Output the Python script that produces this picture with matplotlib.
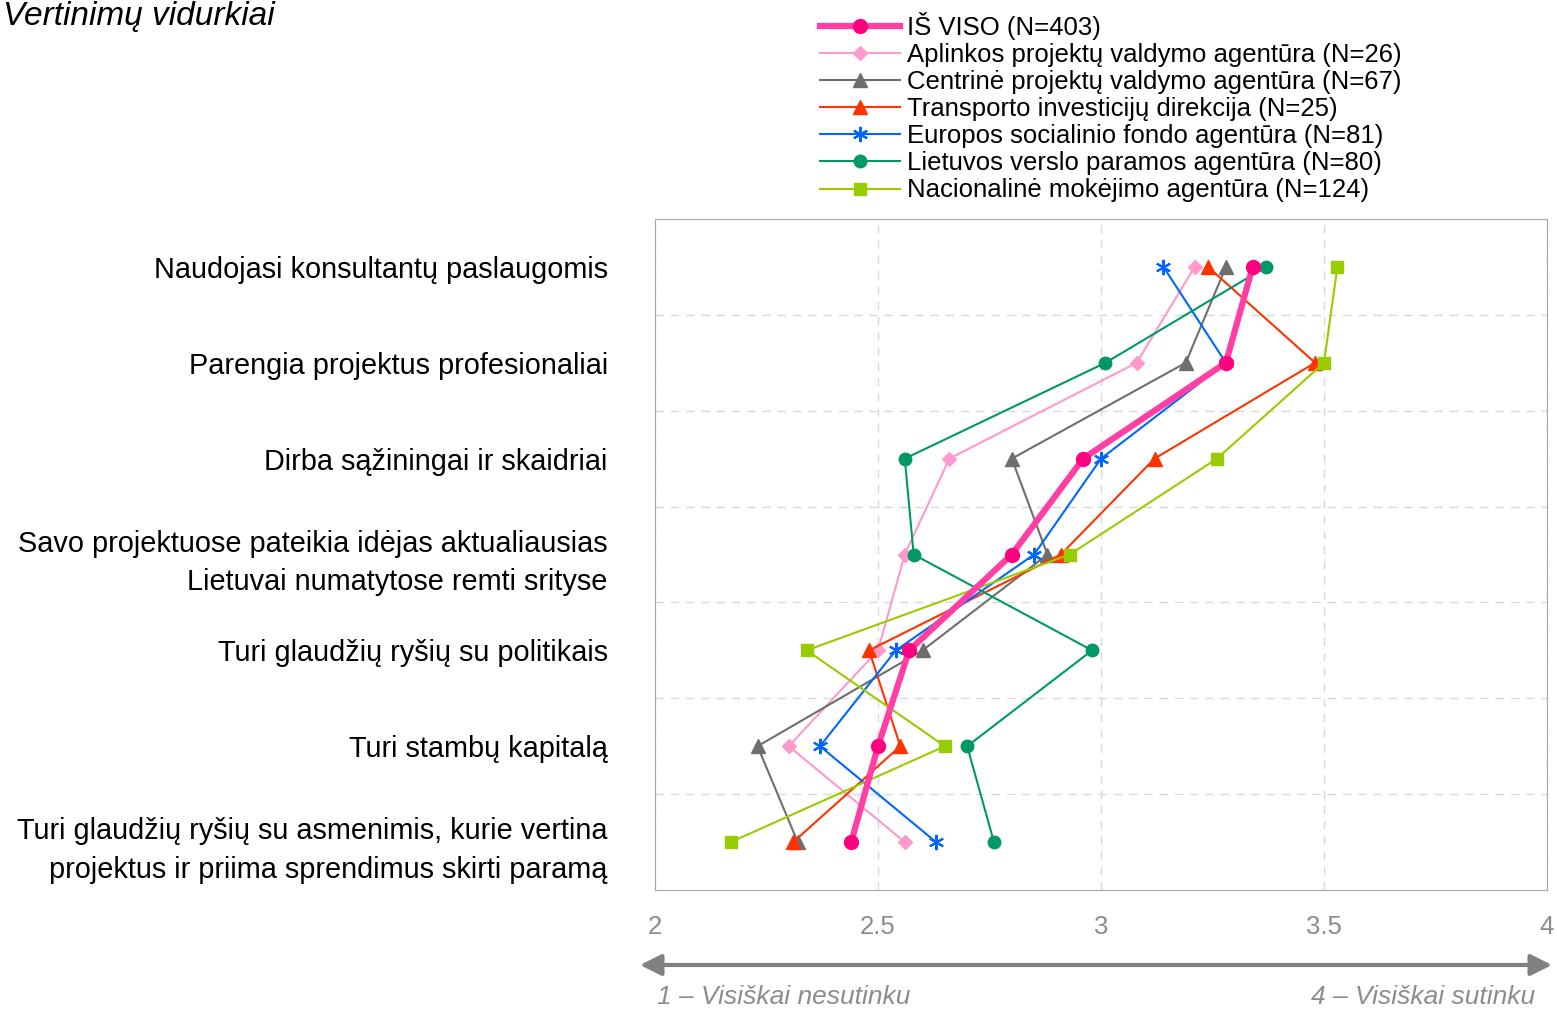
import matplotlib.pyplot as plt
import numpy as np

plt.rcParams['font.family'] = ['Liberation Sans', 'DejaVu Sans']

teiginiai = [
    "Naudojasi konsultantų paslaugomis",
    "Parengia projektus profesionaliai",
    "Dirba sąžiningai ir skaidriai",
    "Savo projektuose pateikia idėjas aktualiausias\nLietuvai numatytose remti srityse",
    "Turi glaudžių ryšių su politikais",
    "Turi stambų kapitalą",
    "Turi glaudžių ryšių su asmenimis, kurie vertina\nprojektus ir priima sprendimus skirti paramą",
]

pavadinimai = [
    "IŠ VISO (N=403)",
    "Aplinkos projektų valdymo agentūra (N=26)",
    "Centrinė projektų valdymo agentūra (N=67)",
    "Transporto investicijų direkcija (N=25)",
    "Europos socialinio fondo agentūra (N=81)",
    "Lietuvos verslo paramos agentūra (N=80)",
    "Nacionalinė mokėjimo agentūra (N=124)",
]

is_viso = [3.34, 3.28, 2.96, 2.80, 2.57, 2.50, 2.44]
apvia = [3.21, 3.08, 2.66, 2.56, 2.50, 2.30, 2.56]
cpva = [3.28, 3.19, 2.80, 2.88, 2.60, 2.23, 2.32]
tid = [3.24, 3.48, 3.12, 2.91, 2.48, 2.55, 2.31]
esfa = [3.14, 3.28, 3.00, 2.85, 2.54, 2.37, 2.63]
lvpa = [3.37, 3.01, 2.56, 2.58, 2.98, 2.70, 2.76]
nma = [3.53, 3.50, 3.26, 2.93, 2.34, 2.65, 2.17]

fig = plt.figure(figsize=(15.57, 10.10), dpi=100)
ax = fig.add_axes([655 / 1557, 120 / 1010, 892 / 1557, 671 / 1010])

y = np.arange(len(teiginiai))

zvaigzde = (6, 2, 0)  # šešiakampė žvaigždutė
# stilius: (reikšmės, linijos spalva, markeris, žymeklio spalva, storis, dydis)
serijos = [
    (is_viso, "#ff3fa4", "o", "#ff0080", 4.5, 10),
    (apvia, "#ff99cc", "D", "#ff99cc", 1.5, 7),
    (cpva, "#6e6e6e", "^", "#6e6e6e", 1.5, 10),
    (tid, "#ff3300", "^", "#ff3300", 1.5, 10),
    (esfa, "#0066ff", zvaigzde, "#0066ff", 1.5, 11),
    (lvpa, "#009966", "o", "#009966", 1.5, 9),
    (nma, "#99cc00", "s", "#99cc00", 1.5, 9),
]

for i, (vals, col, mk, mcol, lw, ms) in enumerate(serijos):
    ax.plot(vals, y, color=col, lw=lw, marker=mk, markersize=ms,
            markerfacecolor=mcol, markeredgecolor=mcol,
            markeredgewidth=1.5 if mk == zvaigzde else 1,
            label=pavadinimai[i], zorder=10 if i == 0 else 3)

ax.set_xlim(2, 4)
ax.set_ylim(6.5, -0.5)
ax.set_xticks([2, 2.5, 3, 3.5, 4], ["2", "2.5", "3", "3.5", "4"])
ax.set_yticks(y, teiginiai, linespacing=1.5)
ax.tick_params(axis="x", length=0, pad=18, labelsize=18.5, labelcolor="#8c8c8c")
ax.tick_params(axis="y", length=0, pad=34, labelsize=20.8)

ax.set_yticks(np.arange(0.5, 6.5, 1), minor=True)
ax.tick_params(axis="y", which="minor", length=0)
ax.grid(axis="x", which="major", color="#d9d9d9", ls=(0, (6, 5)), lw=1)
ax.grid(axis="y", which="minor", color="#d9d9d9", ls=(0, (6, 5)), lw=1)
ax.set_axisbelow(True)
for s in ax.spines.values():
    s.set_color("#a6a6a6")

fig.legend(loc="upper left", bbox_to_anchor=(820 / 1557, 1 - 12 / 1010),
           frameon=False, fontsize=18.5, handlelength=3.1, handletextpad=0.27,
           labelspacing=0.12, borderaxespad=0, borderpad=0)

fig.text(3 / 1557, 1 - 17 / 1010, "Vertinimų vidurkiai", ha="left",
         va="center", fontsize=24, style="italic")

ax.annotate("", xy=(1552, 45), xytext=(640, 45), xycoords="figure pixels",
            arrowprops=dict(arrowstyle="<|-|>", color="#808080", lw=3,
                            mutation_scale=32, shrinkA=0, shrinkB=0))
fig.text(657 / 1557, 1 - 997 / 1010, "1 – Visiškai nesutinku", ha="left",
         va="center", fontsize=19, style="italic", color="#8c8c8c")
fig.text(1535 / 1557, 1 - 997 / 1010, "4 – Visiškai sutinku", ha="right",
         va="center", fontsize=19, style="italic", color="#8c8c8c")

fig.savefig("out.png", dpi=100)
